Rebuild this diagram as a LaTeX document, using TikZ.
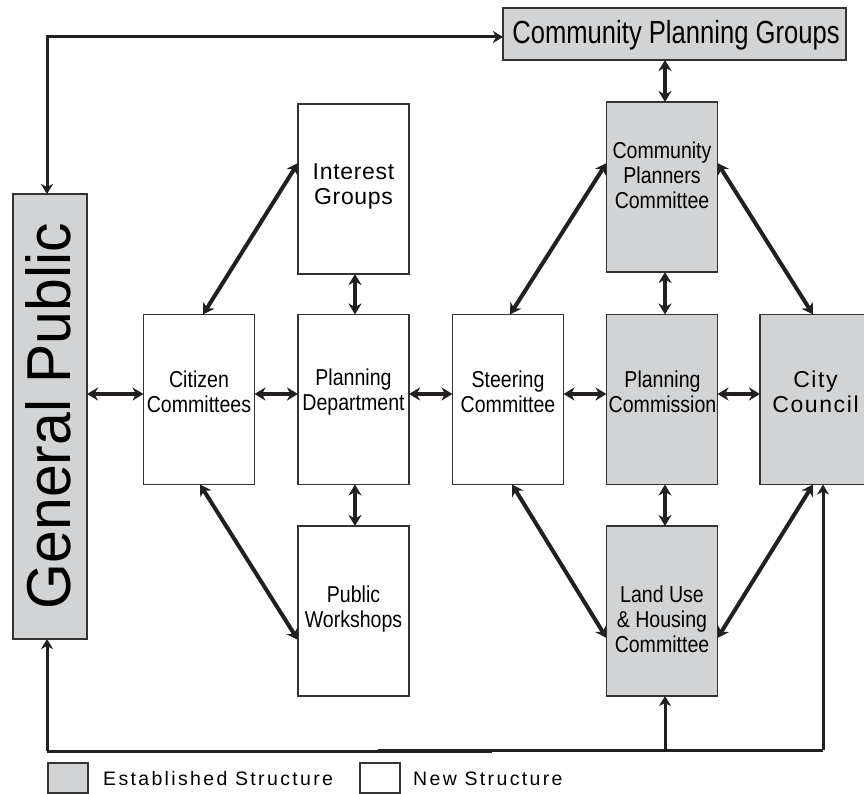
\documentclass[tikz,border=0pt]{standalone}
\usepackage{fontspec}
\setmainfont{Liberation Sans}
\newfontfamily\condsans[FakeStretch=0.85]{Liberation Sans}
\newfontfamily\widesans[LetterSpace=7]{Liberation Sans}
\newfontfamily\groupsans[LetterSpace=3]{Liberation Sans}
\newfontfamily\legendsans[LetterSpace=12]{Liberation Sans}
\newfontfamily\titlesans[FakeStretch=0.8]{Liberation Sans}
\newfontfamily\publicsans[FakeStretch=0.95]{Liberation Sans}
\usetikzlibrary{arrows.meta}
\definecolor{estgray}{HTML}{D1D3D4}
\definecolor{ink}{HTML}{231F20}
\definecolor{edge}{HTML}{333333}

\tikzset{
  newbox/.style={draw=edge, line width=1.8pt, fill=white, minimum width=111pt,
    minimum height=170pt, inner sep=0pt, outer sep=0pt},
  estbox/.style={newbox, fill=estgray},
  label text/.style={inner sep=0pt, align=center, text=black},
  cond text/.style={label text, font=\condsans\fontsize{23}{25}\selectfont},
  wide text/.style={label text, font=\widesans\fontsize{23}{25}\selectfont},
  link/.style={draw=ink, line width=4pt, {Stealth[length=11pt, width=13pt, inset=3.5pt]}-{Stealth[length=11pt, width=13pt, inset=3.5pt]}},
  feed/.style={draw=ink, line width=3pt},
  feedto/.style={feed, -{Stealth[length=10pt, width=12pt, inset=3pt]}},
}

\begin{document}
\begin{tikzpicture}[x=1pt, y=-1pt]
\useasboundingbox (0,0) rectangle (864,794);

% boxes
\node[estbox, minimum width=74pt, minimum height=445pt] (gp) at (50,416.5) {};
\node[estbox, minimum width=343pt, minimum height=52pt] (cpg) at (674.5,34) {};
\node[newbox] (ig)   at (353.5,189) {};
\node[newbox] (cc)   at (199,399.5) {};
\node[newbox] (pd)   at (353.5,399.5) {};
\node[newbox] (pw)   at (353.5,611) {};
\node[newbox] (sc)   at (508,399.5) {};
\node[estbox] (cpc)  at (662,187) {};
\node[estbox] (pc)   at (662,399.5) {};
\node[estbox] (lu)   at (662,611) {};
\node[estbox] (city) at (815.5,399.5) {};

% box texts
\node[label text, rotate=90, font=\publicsans\fontsize{62}{62}\selectfont] (gpt) at (48,416) {General Public};
\node[label text, font=\titlesans\fontsize{32}{34}\selectfont] (cpgt) at (676,35) {Community Planning Groups};
\node[label text, font=\groupsans\fontsize{23}{25}\selectfont] (igt) at (353.5,186) {Interest\\Groups};
\node[cond text] (cct)   at (199,392) {Citizen\\Committees};
\node[cond text] (pdt)   at (353.5,392) {Planning\\Department};
\node[cond text] (pwt)   at (353.5,609) {Public\\Workshops};
\node[cond text] (sct)   at (508,392) {Steering\\Committee};
\node[cond text] (cpct)  at (662,175) {Community\\Planners\\Committee};
\node[cond text] (pct)   at (662.5,392) {Planning\\Commission};
\node[cond text] (lut)   at (662,619) {Land Use\\\& Housing\\Committee};
\node[wide text] (cityt) at (815.5,392) {City\\Council};

% reference lines for the connectors
\coordinate (row) at (0,394);
\coordinate (colmid) at (355,0);
\coordinate (colright) at (665,0);
\coordinate (tl) at (47,37);
\coordinate (bl) at (47,751);
\coordinate (bm) at (492,751);
\coordinate (bm2) at (378,750);
\coordinate (br) at (823,750);
\coordinate (bu) at (665,750);

% horizontal links along the middle row
\draw[link] (gp.east |- row) -- (cc.west |- row);
\draw[link] (cc.east |- row) -- (pd.west |- row);
\draw[link] (pd.east |- row) -- (sc.west |- row);
\draw[link] (sc.east |- row) -- (pc.west |- row);
\draw[link] (pc.east |- row) -- (city.west |- row);

% vertical links
\draw[link] (ig.south -| colmid) -- (pd.north -| colmid);
\draw[link] (pd.south -| colmid) -- (pw.north -| colmid);
\draw[link] (cpg.south -| colright) -- (cpc.north -| colright);
\draw[link] (cpc.south -| colright) -- (pc.north -| colright);
\draw[link] (pc.south -| colright) -- (lu.north -| colright);

% diagonal links
\draw[link] (ig.west |- 0,163) -- (cc.north -| 203,0);
\draw[link] (cc.south -| 200,0) -- (pw.west |- 0,640);
\draw[link] (cpc.west |- 0,163) -- (sc.north -| 510,0);
\draw[link] (cpc.east |- 0,163) -- (city.north -| 813,0);
\draw[link] (sc.south -| 512,0) -- (lu.west |- 0,638);
\draw[link] (city.south -| 813,0) -- (lu.east |- 0,638);

% outer feedback loop
\draw[feed, {Stealth[length=10pt, width=12pt, inset=3pt]}-{Stealth[length=10pt, width=12pt, inset=3pt]}]
  (gp.north -| tl) -- (tl) -- (cpg.west |- tl);
\draw[feedto] (bl) -- (gp.south -| bl);
\draw[feed] (bl) -- (bm);
\draw[feed] (bm2) -- (br);
\draw[feedto] (br) -- (city.south -| br);
\draw[feedto] (bu) -- (lu.south -| bu);

% legend
\node[estbox, minimum width=40pt, minimum height=30pt] (legest) at (68,778) {};
\node[anchor=base west, inner sep=0pt, font=\legendsans\fontsize{19.5}{22}\selectfont] (legestt) at (103,785) {Established Structure};
\node[newbox, minimum width=40pt, minimum height=30pt] (legnew) at (380,778) {};
\node[anchor=base west, inner sep=0pt, font=\legendsans\fontsize{19.5}{22}\selectfont] (legnewt) at (413,785) {New Structure};
\end{tikzpicture}
\end{document}
